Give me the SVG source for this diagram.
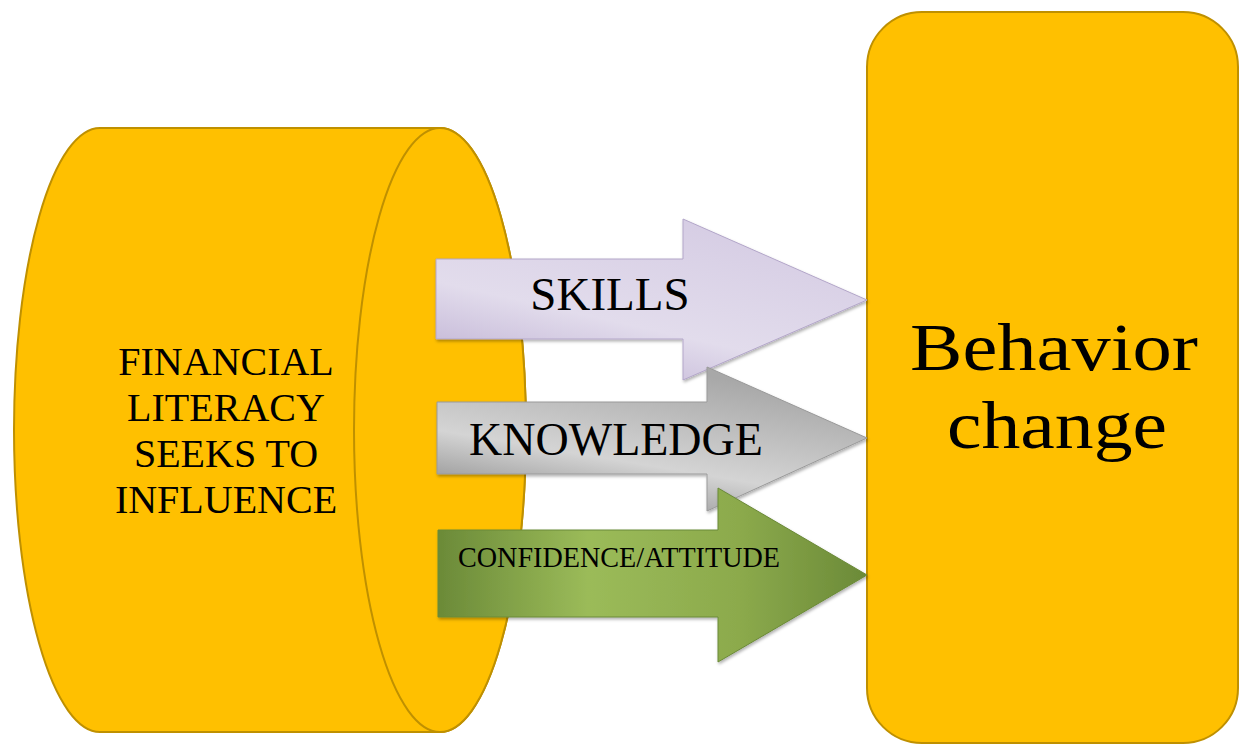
<svg xmlns="http://www.w3.org/2000/svg" width="1241" height="753" viewBox="0 0 1241 753">
<style>
.shape{fill:#FFC000;stroke:#BF9000;stroke-width:2}
.lbl{font-family:"Liberation Serif","Times New Roman",serif;fill:#000;text-anchor:middle}
.arr{stroke-width:1}
</style>
<defs>
<linearGradient id="gSkills" x1="0" y1="1" x2="0.6" y2="0">
<stop offset="0" stop-color="#B9AACF"/>
<stop offset="0.45" stop-color="#E2DCEC"/>
<stop offset="1" stop-color="#D6CDE4"/>
</linearGradient>
<linearGradient id="gKnow" x1="0" y1="1" x2="0.5" y2="0">
<stop offset="0" stop-color="#7A7A7A"/>
<stop offset="0.45" stop-color="#D4D4D4"/>
<stop offset="1" stop-color="#A8A8A8"/>
</linearGradient>
<linearGradient id="gConf" x1="0" y1="0" x2="1" y2="0">
<stop offset="0" stop-color="#6B8A38"/>
<stop offset="0.35" stop-color="#9BBB59"/>
<stop offset="0.7" stop-color="#8CAA4C"/>
<stop offset="1" stop-color="#6B8A38"/>
</linearGradient>
<filter id="sh" x="-5%" y="-5%" width="110%" height="115%">
<feDropShadow dx="1" dy="2" stdDeviation="1.5" flood-color="#000" flood-opacity="0.3"/>
</filter>
</defs>
<rect width="1241" height="753" fill="#FFFFFF"/>

<g id="node-financial-literacy">
<path class="shape" d="M100,128 L440,128 A86,302 0 0 1 440,732 L100,732 A86,302 0 0 1 100,128 Z"/>
<ellipse class="shape" cx="440" cy="430" rx="86" ry="302"/>
<text class="lbl" font-size="40" x="226" y="375">FINANCIAL</text>
<text class="lbl" font-size="40" x="226" y="421">LITERACY</text>
<text class="lbl" font-size="40" x="226" y="467">SEEKS TO</text>
<text class="lbl" font-size="40" x="226" y="513">INFLUENCE</text>
</g>

<g id="node-behavior-change">
<rect class="shape" x="867" y="12" width="371" height="731" rx="55" ry="55"/>
<text class="lbl" font-size="68" x="1054" y="370" textLength="288" lengthAdjust="spacingAndGlyphs">Behavior</text>
<text class="lbl" font-size="68" x="1057" y="448" textLength="220" lengthAdjust="spacingAndGlyphs">change</text>
</g>

<g id="connectors">
<g id="arrow-skills">
<path class="arr" filter="url(#sh)" fill="url(#gSkills)" stroke="#B3A6C9" d="M436,259 L683,259 L683,219 L867,300 L683,380 L683,339 L436,339 Z"/>
<text class="lbl" font-size="47" x="610" y="310">SKILLS</text>
</g>
<g id="arrow-knowledge">
<path class="arr" filter="url(#sh)" fill="url(#gKnow)" stroke="#9A9A9A" d="M437,402 L707,402 L707,367 L867,438 L707,511 L707,474 L437,474 Z"/>
<text class="lbl" font-size="46" x="616" y="455">KNOWLEDGE</text>
</g>
<g id="arrow-confidence">
<path class="arr" filter="url(#sh)" fill="url(#gConf)" stroke="#6B8A38" d="M438,530 L718,530 L718,488 L867,575 L718,662 L718,617 L438,617 Z"/>
<text class="lbl" font-size="29" x="619" y="567" textLength="322" lengthAdjust="spacingAndGlyphs">CONFIDENCE/ATTITUDE</text>
</g>
</g>
</svg>
